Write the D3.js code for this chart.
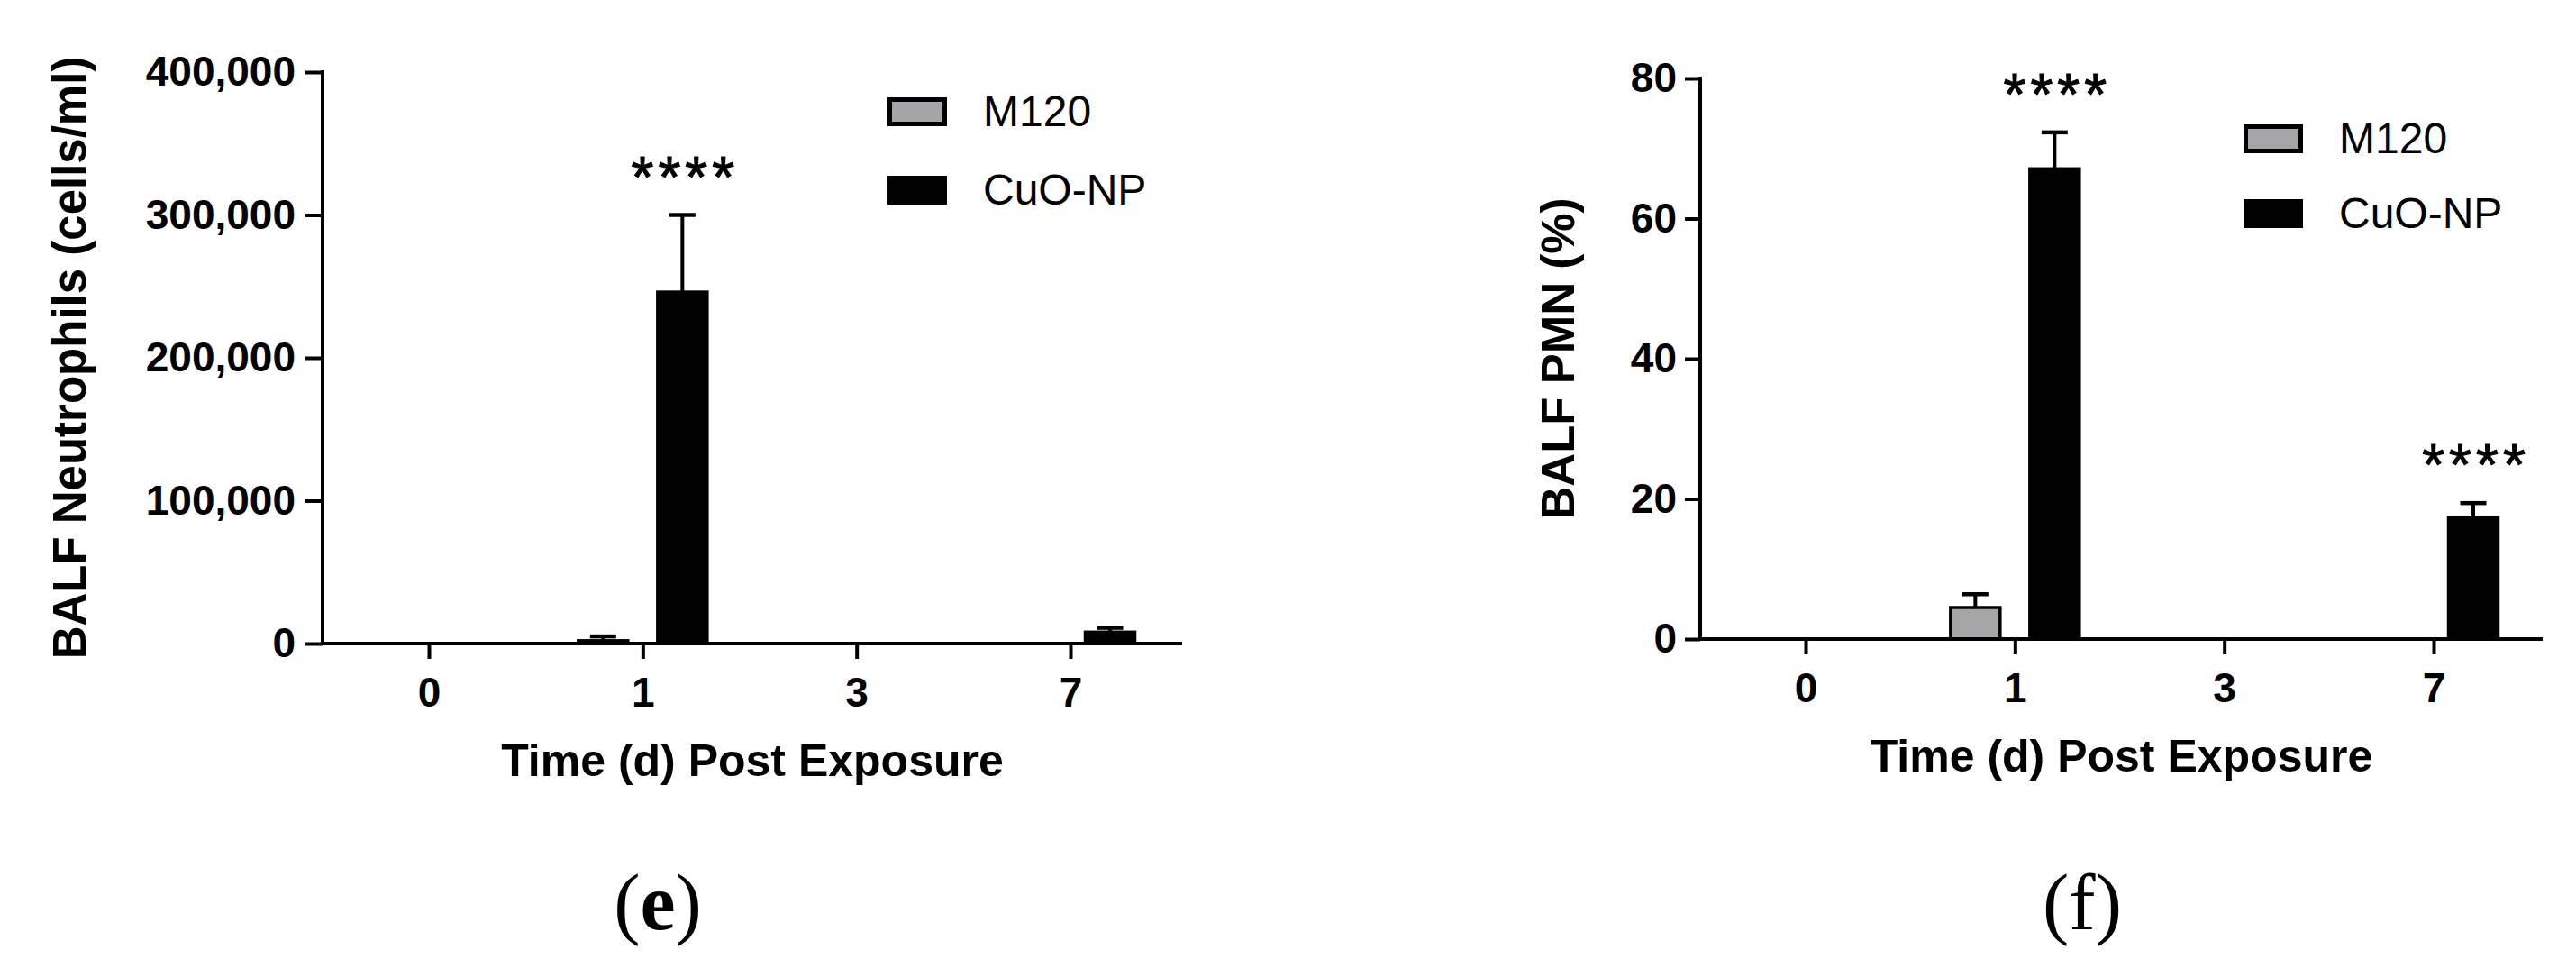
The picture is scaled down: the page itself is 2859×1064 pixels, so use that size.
<!DOCTYPE html>
<html>
<head>
<meta charset="utf-8">
<script src="https://cdn.jsdelivr.net/npm/d3@7"></script>
<style>
  html, body { margin: 0; padding: 0; background: #fff; }
  svg { display: block; }
  text { font-family: "Liberation Sans", Arial, Helvetica, sans-serif; fill: #000; }
</style>
</head>
<body>
<svg id="chart" width="2859" height="1064"></svg>
<script>
// ---------------- data ----------------
const days = ["0", "1", "3", "7"];
const seriesNames = ["M120", "CuO-NP"];
const seriesFill = ["#a5a5a8", "#000000"];

// panel (e): BALF neutrophils (cells/ml)
const neutM120    = [null, 2000, null, null];
const neutM120Err = [null, 3000, null, null];
const neutCuO     = [null, 246000, null, 8000];
const neutCuOErr  = [null, 54000, null, 3000];
const neutSig     = [null, "****", null, null];
const neutTicks   = [0, 100000, 200000, 300000, 400000];

// panel (f): BALF PMN (%)
const pmnM120    = [null, 4.5, null, null];
const pmnM120Err = [null, 1.9, null, null];
const pmnCuO     = [null, 67.1, null, 17.4];
const pmnCuOErr  = [null, 5.2, null, 2.0];
const pmnSig     = [null, "****", null, "****"];
const pmnTicks   = [0, 20, 40, 60, 80];

const xTitle = "Time (d) Post Exposure";

// ---------------- drawing ----------------
const svg = d3.select("#chart");

function drawPanel(cfg) {
  const g = svg.append("g");
  const y = d3.scaleLinear().domain([0, cfg.yMax]).range([cfg.y0, cfg.yTop]);
  const x = d3.scalePoint().domain(days).range([cfg.xFirst, cfg.xLast]);

  // y axis
  const yAxis = d3.axisLeft(y).tickValues(cfg.ticks).tickFormat(cfg.fmt)
    .tickSize(cfg.yTick).tickSizeOuter(0).tickPadding(cfg.yPad);
  const ya = g.append("g").attr("transform", `translate(${cfg.axisX},0)`).call(yAxis);
  ya.select(".domain").attr("stroke-width", 4).attr("stroke", "#000")
    .attr("d", `M0,${cfg.yTop - 2}V${cfg.y0}`);
  ya.selectAll(".tick line").attr("stroke-width", 4).attr("stroke", "#000");
  ya.selectAll(".tick text").attr("font-size", 46).attr("font-weight", "bold")
    .attr("font-family", "'Liberation Sans', Arial, sans-serif").attr("fill", "#000");

  // x axis
  const xAxis = d3.axisBottom(x).tickSize(17).tickSizeOuter(0).tickPadding(0);
  const xa = g.append("g").attr("transform", `translate(0,${cfg.y0})`).call(xAxis);
  xa.select(".domain").attr("stroke-width", 4).attr("stroke", "#000")
    .attr("d", `M${cfg.axisX},0H${cfg.xEnd}`);
  xa.selectAll(".tick line").attr("stroke-width", 4).attr("stroke", "#000");
  xa.selectAll(".tick text").attr("font-size", 46).attr("font-weight", "bold")
    .attr("font-family", "'Liberation Sans', Arial, sans-serif").attr("fill", "#000")
    .attr("dy", null).attr("y", 70);

  // bars
  const barW = 55;
  const offsets = [-44, 44];
  const sets = [
    { vals: cfg.m120, errs: cfg.m120Err, sig: null },
    { vals: cfg.cuo, errs: cfg.cuoErr, sig: cfg.sig }
  ];
  sets.forEach((s, si) => {
    const data = days.map((d, i) => ({ day: d, v: s.vals[i], e: s.errs[i], sig: s.sig ? s.sig[i] : null }))
      .filter(d => d.v !== null);
    const cx = d => x(d.day) + offsets[si];
    g.selectAll(null).data(data).enter().append("line")
      .attr("x1", cx).attr("x2", cx)
      .attr("y1", d => y(d.v)).attr("y2", d => y(d.v + d.e))
      .attr("stroke", "#000").attr("stroke-width", 4);
    g.selectAll(null).data(data).enter().append("line")
      .attr("x1", d => cx(d) - 14.5).attr("x2", d => cx(d) + 14.5)
      .attr("y1", d => y(d.v + d.e)).attr("y2", d => y(d.v + d.e))
      .attr("stroke", "#000").attr("stroke-width", 4.5);
    g.selectAll(null).data(data).enter().append("rect")
      .attr("x", d => cx(d) - barW / 2).attr("width", barW)
      .attr("y", d => y(d.v)).attr("height", d => cfg.y0 - y(d.v))
      .attr("fill", seriesFill[si]).attr("stroke", "#000").attr("stroke-width", 3.5);
    g.selectAll(null).data(data.filter(d => d.sig)).enter().append("text")
      .attr("x", d => cx(d) + 3).attr("y", d => y(d.v + d.e) - 55 + 35)
      .attr("text-anchor", "middle").attr("font-size", 64)
      .attr("stroke", "#000").attr("stroke-width", 1)
      .attr("letter-spacing", 5).text(d => d.sig);
  });

  xa.raise();

  // axis titles
  g.append("text")
    .attr("transform", `translate(${cfg.yTitleX},${(cfg.yTop + cfg.y0) / 2}) rotate(-90)`)
    .attr("text-anchor", "middle").attr("font-size", 51).attr("font-weight", "bold")
    .text(cfg.yTitle);
  g.append("text")
    .attr("x", (cfg.axisX + cfg.xEnd) / 2).attr("y", cfg.y0 + 147)
    .attr("text-anchor", "middle").attr("font-size", 50).attr("font-weight", "bold")
    .text(xTitle);

  // legend
  seriesNames.forEach((name, i) => {
    const by = cfg.legY + i * cfg.legStep;
    g.append("rect").attr("x", cfg.legX + 2.5).attr("y", by + 2.5)
      .attr("width", 61).attr("height", 27)
      .attr("fill", seriesFill[i]).attr("stroke", "#000").attr("stroke-width", 5);
    g.append("text").attr("x", cfg.legX + 106).attr("y", by + 32)
      .attr("font-size", 48).text(name);
  });

  // panel label
  const lab = g.append("text").attr("x", cfg.labX).attr("y", 1031)
    .attr("text-anchor", "middle").attr("font-size", 88)
    .style("font-family", "'Liberation Serif', 'Times New Roman', serif");
  lab.append("tspan").text("(");
  lab.append("tspan").attr("font-weight", cfg.labBold ? "bold" : "normal").text(cfg.label);
  lab.append("tspan").text(")");
}

drawPanel({
  yMax: 400000, ticks: neutTicks, fmt: d3.format(","),
  axisX: 358, yTop: 80, y0: 714, xFirst: 476, xLast: 1188, xEnd: 1312,
  yTick: 19, yPad: 11,
  m120: neutM120, m120Err: neutM120Err, cuo: neutCuO, cuoErr: neutCuOErr, sig: neutSig,
  yTitle: "BALF Neutrophils (cells/ml)", yTitleX: 95,
  legX: 985, legY: 108, legStep: 87,
  label: "e", labX: 730, labBold: true
});

drawPanel({
  yMax: 80, ticks: pmnTicks, fmt: d3.format("d"),
  axisX: 1887, yTop: 87, y0: 709, xFirst: 2004, xLast: 2701, xEnd: 2822,
  yTick: 17, yPad: 9,
  m120: pmnM120, m120Err: pmnM120Err, cuo: pmnCuO, cuoErr: pmnCuOErr, sig: pmnSig,
  yTitle: "BALF PMN (%)", yTitleX: 1747,
  legX: 2490, legY: 138, legStep: 83,
  label: "f", labX: 2311, labBold: false
});
</script>
</body>
</html>
